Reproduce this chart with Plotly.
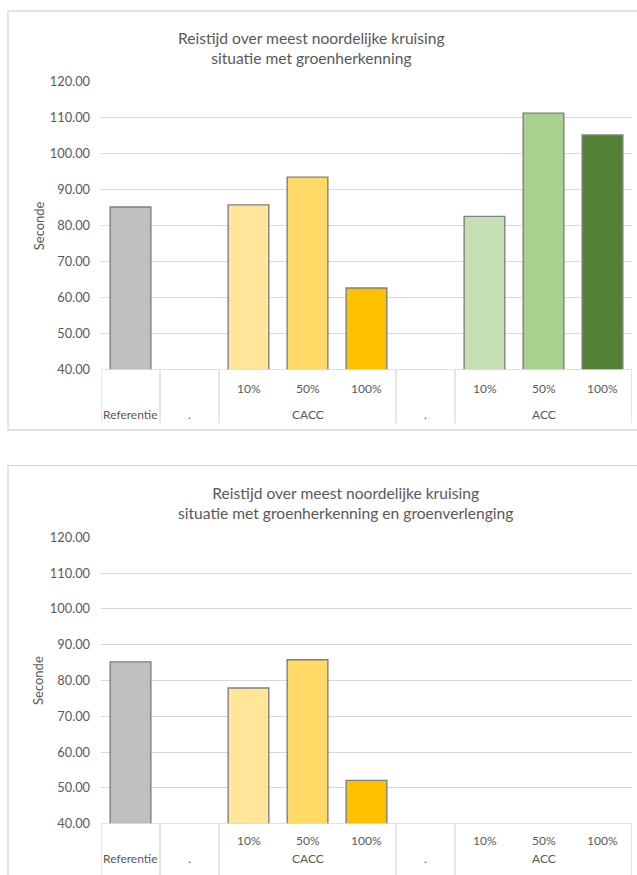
import plotly.graph_objects as go

# --- data -----------------------------------------------------------------
groups = ["Referentie", ".", "CACC", "CACC", "CACC", ".", "ACC", "ACC", "ACC"]
subgroups = ["", "", "10%", "50%", "100%", "", "10%", "50%", "100%"]

reistijd_groen = [85.2, None, 85.8, 93.5, 62.7, None, 82.6, 111.3, 105.2]
reistijd_groen_verlenging = [85.2, None, 77.9, 85.8, 52.1, None, None, None, None]

bar_colors = ["#BFBFBF", "#FFFFFF", "#FFE699", "#FFD966", "#FFC000",
              "#FFFFFF", "#C5E0B4", "#A9D18E", "#548235"]

titles = [
    "Reistijd over meest noordelijke kruising<br>situatie met groenherkenning",
    "Reistijd over meest noordelijke kruising<br>situatie met groenherkenning en groenverlenging",
]
y_title = "Seconde"
y_range = [40, 120]

# --- page geometry ----------------------------------------------------------
W, H = 637, 875
TOP_PAD, USABLE_H = 8, 858   # vertical band of the page the figure occupies
FONT = "Lato"
TXT = "#595959"
GRID = "#D9D9D9"


def px_x(p):
    return p / W


def px_y(p):
    return 1 - (p - TOP_PAD) / USABLE_H


panels = [
    dict(top=80.7, bottom=368.3, table_bottom=421.7, row1=387, row2=413, row2_anchor="middle",
         title_x=311.6, title_y=46.7, frame_top=10, frame_bottom=428.5,
         values=reistijd_groen, title=titles[0]),
    dict(top=535.7, bottom=821.7, table_bottom=900, row1=839, row2=TOP_PAD + USABLE_H,
         row2_anchor="bottom",
         title_x=345.5, title_y=501.7, frame_top=464, frame_bottom=900,
         values=reistijd_groen_verlenging, title=titles[1]),
]

plot_left, plot_right = 101, 632

fig = go.Figure()
shapes = []
annotations = []
positions = list(range(len(groups)))

# spans of consecutive identical group labels
spans = []
start = 0
for i in range(1, len(groups) + 1):
    if i == len(groups) or groups[i] != groups[start]:
        spans.append((groups[start], start, i - 1))
        start = i

for k, p in enumerate(panels, start=1):
    xa = "x" if k == 1 else f"x{k}"
    ya = "y" if k == 1 else f"y{k}"
    xkey = "xaxis" if k == 1 else f"xaxis{k}"
    ykey = "yaxis" if k == 1 else f"yaxis{k}"

    fig.add_trace(go.Bar(
        x=positions, y=p["values"], xaxis=xa, yaxis=ya,
        marker=dict(color=bar_colors, line=dict(color="#7F7F7F", width=1.4)),
        showlegend=False, hoverinfo="y",
    ))

    fig.layout[xkey] = dict(
        domain=[px_x(plot_left), px_x(plot_right)], anchor=ya,
        range=[-0.5, len(groups) - 0.5], showticklabels=False,
        showgrid=False, zeroline=False, showline=False, fixedrange=True,
    )
    fig.layout[ykey] = dict(
        domain=[px_y(p["bottom"]), px_y(p["top"])], anchor=xa,
        range=y_range, dtick=10, tickformat=".2f",
        showgrid=True, gridcolor=GRID, gridwidth=1.3, zeroline=False,
        showline=False, ticks="", ticklabelstandoff=10,
        tickfont=dict(family=FONT, size=12.8, color=TXT), fixedrange=True,
    )

    # chart frame
    shapes.append(dict(type="rect", xref="paper", yref="paper",
                       x0=px_x(8), x1=1.02, y0=max(px_y(p["frame_bottom"]), -0.05),
                       y1=px_y(p["frame_top"]),
                       line=dict(color=GRID, width=1.3), fillcolor="rgba(0,0,0,0)", layer="below"))

    # category table: top line and group dividers
    shapes.append(dict(type="line", xref=xa, yref=ya, x0=-0.5, x1=len(groups) - 0.5,
                       y0=y_range[0], y1=y_range[0], line=dict(color=GRID, width=1.3)))
    bounds = [spans[0][1] - 0.5] + [s[2] + 0.5 for s in spans]
    for b in bounds:
        shapes.append(dict(type="line", xref=xa, yref="paper", x0=b, x1=b,
                           y0=max(px_y(p["table_bottom"]), -0.05), y1=px_y(p["bottom"]),
                           line=dict(color=GRID, width=1.3)))

    for i, lab in enumerate(subgroups):
        if lab:
            annotations.append(dict(x=i, xref=xa, y=px_y(p["row1"]), yref="paper",
                                    text=lab, showarrow=False, yanchor="middle",
                                    font=dict(family=FONT, size=12, color=TXT)))
    for name, s0, s1 in spans:
        annotations.append(dict(x=(s0 + s1) / 2, xref=xa, y=px_y(p["row2"]), yref="paper",
                                text=name, showarrow=False, yanchor=p["row2_anchor"],
                                font=dict(family=FONT, size=12, color=TXT)))

    # chart title
    annotations.append(dict(x=px_x(p["title_x"]), xref="paper", y=px_y(p["title_y"]), yref="paper",
                            text=p["title"], showarrow=False, xanchor="center", yanchor="middle",
                            font=dict(family=FONT, size=15.6, color=TXT)))
    # value axis title
    annotations.append(dict(x=px_x(38.5), xref="paper",
                            y=px_y((p["top"] + p["bottom"]) / 2), yref="paper",
                            text=y_title, textangle=-90, showarrow=False,
                            xanchor="center", yanchor="middle",
                            font=dict(family=FONT, size=13, color=TXT)))

fig.update_layout(
    width=W, height=H, margin=dict(l=0, r=0, t=0, b=0),
    paper_bgcolor="white", plot_bgcolor="white",
    bargap=0.31, shapes=shapes, annotations=annotations,
)

fig.write_html("out.html", config={"displayModeBar": False})
